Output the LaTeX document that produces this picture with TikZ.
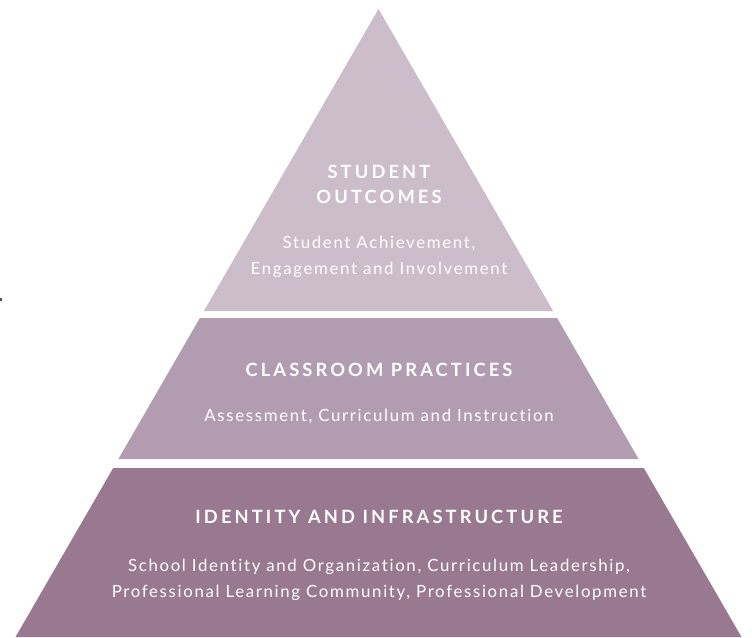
\documentclass[tikz,border=0pt]{standalone}
\usepackage{fontspec}
\setmainfont{Lato}
\newfontfamily\capsfont[LetterSpace=17,Ligatures=NoCommon]{Lato}
\newfontfamily\bodyfont[LetterSpace=10,Ligatures=NoCommon]{Lato}
\definecolor{tierTop}{HTML}{CBBDCA}
\definecolor{tierMid}{HTML}{B19DAF}
\definecolor{tierLow}{HTML}{98798F}
\tikzset{
  heading/.style={text=white, font=\capsfont\fontsize{18.3}{25}\selectfont\bfseries, align=center},
  detail/.style={text=white, font=\bodyfont\fontsize{16.8}{25.5}\selectfont, align=center}
}
\begin{document}
\begin{tikzpicture}[x=1pt,y=-1pt]
  \useasboundingbox (0,0) rectangle (752,637);
  % Tiers
    \fill[tierTop] (378.5,9) -- (553.1,311) -- (203.9,311) -- cycle;
    \fill[tierMid] (199.9,318) -- (557.1,318) -- (638.6,459) -- (118.4,459) -- cycle;
    \fill[tierLow] (113.2,468) -- (643.8,468) -- (741.5,637) -- (15.5,637) -- cycle;
  % Speck
    \fill[tierLow!60!black] (0,298) rectangle (2,300.5);

  % Top
    \node[heading] (outcomes) at (379,184) {STUDENT\\OUTCOMES};
    \node[detail] (achieve) at (379,257) {Student Achievement,\\Engagement and Involvement};
  % Middle
    \node[heading] (practices) at (379,370) {CLASSROOM PRACTICES};
    \node[detail] (assess) at (379,416.5) {Assessment, Curriculum and Instruction};
  % Bottom
    \node[heading] (identity) at (379,517) {IDENTITY AND INFRASTRUCTURE};
    \node[detail] (leader) at (379,580) {School Identity and Organization, Curriculum Leadership,\\Professional Learning Community, Professional Development};
\end{tikzpicture}
\end{document}
